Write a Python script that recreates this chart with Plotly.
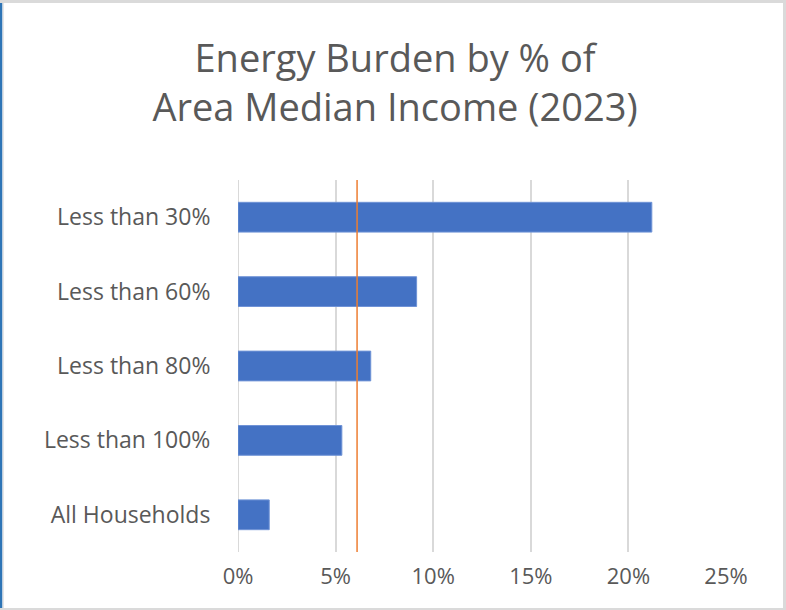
import plotly.graph_objects as go

categories = ["Less than 30%", "Less than 60%", "Less than 80%", "Less than 100%", "All Households"]
values = [21.2, 9.15, 6.8, 5.32, 1.6]
reference_value = 6.1
x_ticks = [0, 5, 10, 15, 20, 25]
x_tick_labels = ["0%", "5%", "10%", "15%", "20%", "25%"]
title_text = "Energy Burden by % of<br>Area Median Income (2023)"

W, H = 786, 610
L, R, T, B = 238, 60, 180, 58
pw, ph = W - L - R, H - T - B
FONT = "Open Sans, Lato, sans-serif"

def px_x(p):
    return (p - L) / pw

def px_y(p):
    return 1 - (p - T) / ph

fig = go.Figure()
fig.add_trace(go.Bar(
    y=categories, x=values, orientation="h",
    marker=dict(color="#4472C4", line=dict(color="#6F93D6", width=1)),
    hoverinfo="x+y",
))

shapes = [
    dict(type="line", xref="x", yref="paper", x0=reference_value, x1=reference_value,
         y0=0, y1=1, line=dict(color="#ED7D31", width=1.5), layer="above"),
    # window borders
    dict(type="rect", xref="paper", yref="paper", x0=px_x(0), x1=px_x(2.5), y0=px_y(H), y1=px_y(0),
         fillcolor="#2E75B6", line=dict(width=0), layer="above"),
    dict(type="rect", xref="paper", yref="paper", x0=px_x(2.5), x1=px_x(4), y0=px_y(H), y1=px_y(0),
         fillcolor="#E6E6E6", line=dict(width=0), layer="above"),
    dict(type="rect", xref="paper", yref="paper", x0=px_x(0), x1=px_x(W), y0=px_y(3), y1=px_y(0),
         fillcolor="#DADADA", line=dict(width=0), layer="above"),
    dict(type="rect", xref="paper", yref="paper", x0=px_x(783), x1=px_x(W), y0=px_y(H), y1=px_y(0),
         fillcolor="#DADADA", line=dict(width=0), layer="above"),
    dict(type="rect", xref="paper", yref="paper", x0=px_x(0), x1=px_x(W), y0=px_y(H), y1=px_y(608),
         fillcolor="#DADADA", line=dict(width=0), layer="above"),
]

fig.update_layout(
    width=W, height=H,
    margin=dict(l=L, r=R, t=T, b=B),
    paper_bgcolor="white", plot_bgcolor="white",
    bargap=0.6,
    showlegend=False,
    font=dict(family=FONT, color="#595959"),
    title=dict(text=title_text, x=(395 - L) / pw, xref="paper", xanchor="center",
               y=1 - 72 / H, yanchor="middle",
               font=dict(size=38, color="#595959", family=FONT)),
    shapes=shapes,
)
fig.update_xaxes(
    range=[0, 25], tickvals=x_ticks, ticktext=x_tick_labels,
    showgrid=True, gridcolor="#D9D9D9", gridwidth=2,
    zeroline=False, showline=False,
    ticks="outside", ticklen=5, tickcolor="rgba(0,0,0,0)",
    tickfont=dict(size=22, color="#595959"),
    fixedrange=True,
)
fig.update_yaxes(
    autorange="reversed", showgrid=False, zeroline=False, showline=False,
    ticks="outside", ticklen=22, tickcolor="rgba(0,0,0,0)",
    tickfont=dict(size=23, color="#595959"),
    fixedrange=True,
)
fig.add_vline(x=0, line=dict(color="#D9D9D9", width=2), layer="below")

fig.write_html("out.html", config={"displayModeBar": False},
               post_script="document.body.style.margin='0';document.body.style.overflow='hidden';")
